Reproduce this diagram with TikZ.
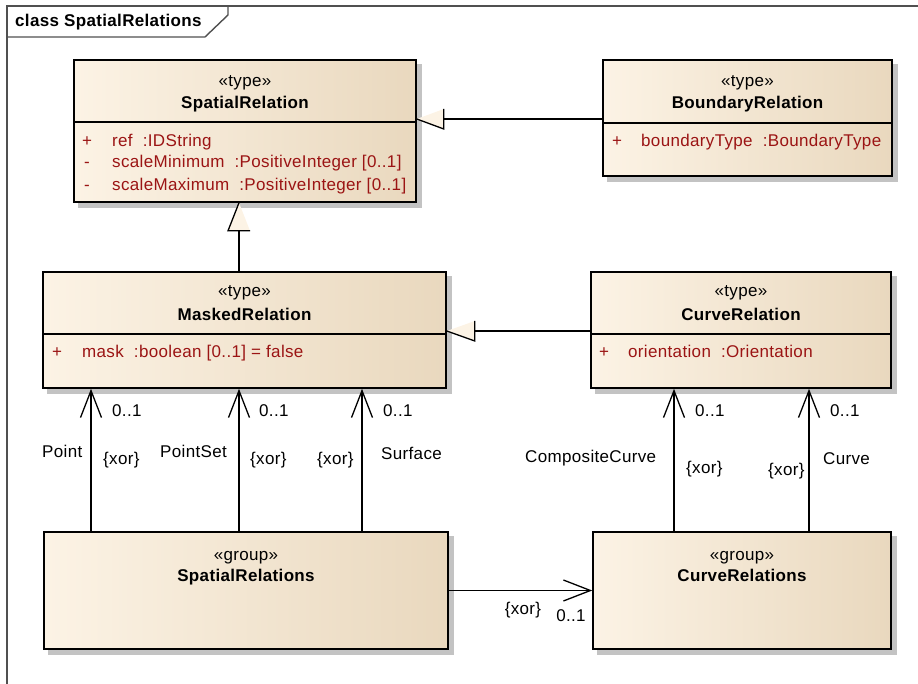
\documentclass[tikz,border=0pt]{standalone}
\usepackage{fontspec}
\setmainfont{Liberation Sans}[LetterSpace=2]
\usetikzlibrary{arrows.meta,calc,backgrounds}
\definecolor{cream}{RGB}{252,243,229}
\definecolor{tan}{RGB}{233,216,190}
\definecolor{attr}{RGB}{155,20,20}
\definecolor{shad}{RGB}{195,195,195}
\definecolor{framegray}{RGB}{80,80,80}
\tikzset{
  umlbox/.style={draw=black, line width=1.6pt, rectangle, inner sep=0pt,
    left color=cream, right color=tan},
  shadowbox/.style={fill=shad},
  sepline/.style={line width=1.3pt},
  stereo/.style={anchor=base, inner sep=0pt},
  cname/.style={anchor=base, inner sep=0pt, font=\fontsize{17}{20}\selectfont\bfseries},
  attrsign/.style={anchor=base, inner sep=0pt, text=attr},
  attrtext/.style={anchor=base west, inner sep=0pt, text=attr},
  lbl/.style={anchor=base west, inner sep=0pt},
  lblc/.style={anchor=base, inner sep=0pt},
  conn/.style={line width=1.3pt},
  assoc/.style={line width=1.3pt, -{Straight Barb[length=27pt, width=21pt]}},
  genfill/.style={fill=cream},
  genedge/.style={line width=1.3pt, line join=miter},
  frameline/.style={line width=1.4pt, draw=framegray}
}
\begin{document}
\begin{tikzpicture}[x=1pt, y=-1pt, font=\fontsize{17}{20}\selectfont]
\useasboundingbox (0,0) rectangle (918,684);

% frame
\draw[frameline] (918,6) -- (7,6) -- (7,684);
\draw[frameline] (7,37) -- (205,37) -- (228,15) -- (228,6);
\node[anchor=base west, inner sep=0pt, font=\fontsize{17}{20}\selectfont\bfseries] (title) at (15,27) {class SpatialRelations};

% boxes
\node[umlbox, minimum width=342pt, minimum height=142pt] (sr) at (245,131) {};
\node[umlbox, minimum width=289pt, minimum height=116pt] (br) at (747.5,118) {};
\node[umlbox, minimum width=403pt, minimum height=116pt] (mr) at (244.5,330) {};
\node[umlbox, minimum width=300pt, minimum height=116pt] (cr) at (741,330) {};
\node[umlbox, minimum width=404pt, minimum height=117pt] (sg) at (246,590.5) {};
\node[umlbox, minimum width=298pt, minimum height=117pt] (cg) at (742,590.5) {};

% shadows
\begin{scope}[on background layer]
\foreach \b in {sr,br,mr,cr,sg,cg}
  \fill[shadowbox] ($(\b.north west)+(5,5)$) rectangle ($(\b.south east)+(5,5)$);
\end{scope}

% separators
\draw[sepline] (sr.west |- 0,122) -- (sr.east |- 0,122);
\draw[sepline] (br.west |- 0,123) -- (br.east |- 0,123);
\draw[sepline] (mr.west |- 0,334) -- (mr.east |- 0,334);
\draw[sepline] (cr.west |- 0,334) -- (cr.east |- 0,334);

% SpatialRelation
\node[stereo] (sr-st) at (245,87) {«type»};
\node[cname] (sr-nm) at (245,109) {SpatialRelation};
\node[attrsign] (sr-p1) at (87,147) {+};
\node[attrtext] (sr-a1) at (112,147) {ref\ \ :IDString};
\node[attrsign] (sr-p2) at (87,168) {-};
\node[attrtext] (sr-a2) at (112,168) {scaleMinimum\ \ :PositiveInteger [0..1]};
\node[attrsign] (sr-p3) at (87,191) {-};
\node[attrtext] (sr-a3) at (112,191) {scaleMaximum\ \ :PositiveInteger [0..1]};

% BoundaryRelation
\node[stereo] (br-st) at (747.5,87) {«type»};
\node[cname] (br-nm) at (747.5,109) {BoundaryRelation};
\node[attrsign] (br-p1) at (617,147) {+};
\node[attrtext] (br-a1) at (641,147) {boundaryType\ \ :BoundaryType};

% MaskedRelation
\node[stereo] (mr-st) at (244.5,297) {«type»};
\node[cname] (mr-nm) at (244.5,321) {MaskedRelation};
\node[attrsign] (mr-p1) at (57,358) {+};
\node[attrtext] (mr-a1) at (82,358) {mask\ \ :boolean [0..1] = false};

% CurveRelation
\node[stereo] (cr-st) at (741,297) {«type»};
\node[cname] (cr-nm) at (741,321) {CurveRelation};
\node[attrsign] (cr-p1) at (604,358) {+};
\node[attrtext] (cr-a1) at (628,358) {orientation\ \ :Orientation};

% groups
\node[stereo] (sg-st) at (246,560) {«group»};
\node[cname] (sg-nm) at (246,581) {SpatialRelations};
\node[stereo] (cg-st) at (742,560) {«group»};
\node[cname] (cg-nm) at (742,581) {CurveRelations};

% generalization BoundaryRelation -> SpatialRelation
\coordinate (t1) at ($(sr.east)+(0,-12)$);
\fill[genfill] (t1) -- ++(27,10) -- ++(0,-20) -- cycle;
\draw[genedge] (t1) -- ++(27,10) -- ++(0,-20);
\draw[conn] ($(t1)+(27,0)$) -- (br.west |- t1);

% generalization MaskedRelation -> SpatialRelation
\coordinate (t2) at ($(sr.south)+(-6,0)$);
\fill[genfill] (t2) -- ++(-11,28) -- ++(22,0) -- cycle;
\draw[genedge] (t2) -- ++(-11,28) -- ++(22,0);
\draw[conn] ($(t2)+(0,28)$) -- (t2 |- mr.north);

% generalization CurveRelation -> MaskedRelation
\coordinate (t3) at ($(mr.east)+(0,1)$);
\fill[genfill] (t3) -- ++(28,10) -- ++(0,-20) -- cycle;
\draw[genedge] (t3) -- ++(28,10) -- ++(0,-20);
\draw[conn] ($(t3)+(28,0)$) -- (cr.west |- t3);

% associations SpatialRelations -> MaskedRelation
\draw[assoc] (91,0 |- sg.north) -- (91,0 |- mr.south);
\draw[assoc] (239,0 |- sg.north) -- (239,0 |- mr.south);
\draw[assoc] (362,0 |- sg.north) -- (362,0 |- mr.south);
% associations CurveRelations -> CurveRelation
\draw[assoc] (674,0 |- cg.north) -- (674,0 |- cr.south);
\draw[assoc] (809,0 |- cg.north) -- (809,0 |- cr.south);
% association SpatialRelations -> CurveRelations
\draw[assoc] (sg.east) -- (cg.west);

% labels
\node[lbl] (m1) at (112,416) {0..1};
\node[lbl] (m2) at (259,416) {0..1};
\node[lbl] (m3) at (383,416) {0..1};
\node[lbl] (m4) at (695,416) {0..1};
\node[lbl] (m5) at (830,416) {0..1};
\node[lbl] (r1) at (42,457) {Point};
\node[lbl] (r2) at (160,457) {PointSet};
\node[lbl] (r3) at (381,459) {Surface};
\node[lbl] (r4) at (525,462) {CompositeCurve};
\node[lbl] (r5) at (823,464) {Curve};
\node[lbl] (x1) at (103,464) {\{xor\}};
\node[lbl] (x2) at (250,464) {\{xor\}};
\node[lbl] (x3) at (317,464) {\{xor\}};
\node[lbl] (x4) at (686,473) {\{xor\}};
\node[lbl] (x5) at (768,475) {\{xor\}};
\node[lblc] (x6) at (523,614) {\{xor\}};
\node[lblc] (m6) at (571,621) {0..1};
\end{tikzpicture}
\end{document}
